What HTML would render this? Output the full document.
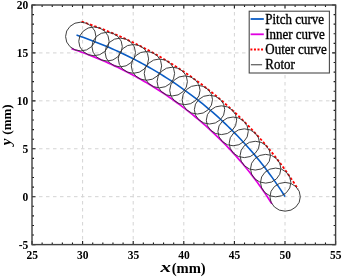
<!DOCTYPE html>
<html><head><meta charset="utf-8"><style>
html,body{margin:0;padding:0;background:#fff;}
svg{display:block;will-change:transform;}
text{font-family:"Liberation Serif",serif;}
</style></head><body>
<svg width="342" height="277" viewBox="0 0 342 277">
<rect width="342" height="277" fill="#fff"/>
<g stroke="#d4d4d4" stroke-width="1" stroke-dasharray="3.5,3.5" fill="none"><line x1="82.60" y1="5.00" x2="82.60" y2="244.60"/><line x1="133.20" y1="5.00" x2="133.20" y2="244.60"/><line x1="183.80" y1="5.00" x2="183.80" y2="244.60"/><line x1="234.40" y1="5.00" x2="234.40" y2="244.60"/><line x1="285.00" y1="5.00" x2="285.00" y2="244.60"/><line x1="32.00" y1="52.92" x2="335.60" y2="52.92"/><line x1="32.00" y1="100.84" x2="335.60" y2="100.84"/><line x1="32.00" y1="148.76" x2="335.60" y2="148.76"/><line x1="32.00" y1="196.68" x2="335.60" y2="196.68"/></g>
<polyline points="76.52,35.11 79.79,36.21 83.06,37.34 86.32,38.50 89.57,39.68 92.80,40.89 96.03,42.13 99.24,43.40 102.44,44.69 105.63,46.01 108.80,47.35 111.97,48.72 115.12,50.12 118.25,51.55 121.38,53.00 124.49,54.47 127.58,55.98 130.67,57.50 133.73,59.06 136.79,60.64 139.83,62.24 142.85,63.87 145.86,65.53 148.85,67.21 151.83,68.92 154.79,70.65 157.73,72.40 160.66,74.18 163.57,75.99 166.46,77.81 169.34,79.67 172.20,81.54 175.04,83.44 177.87,85.37 180.67,87.32 183.46,89.29 186.23,91.28 188.98,93.30 191.71,95.34 194.42,97.40 197.12,99.49 199.79,101.60 202.44,103.73 205.08,105.88 207.69,108.05 210.28,110.25 212.86,112.47 215.41,114.71 217.94,116.97 220.45,119.25 222.94,121.55 225.41,123.88 227.85,126.22 230.27,128.58 232.67,130.97 235.05,133.37 237.41,135.80 239.74,138.24 242.05,140.70 244.34,143.19 246.61,145.69 248.85,148.21 251.06,150.75 253.26,153.30 255.43,155.88 257.57,158.47 259.69,161.08 261.79,163.71 263.86,166.36 265.91,169.02 267.93,171.70 269.93,174.40 271.90,177.12 273.85,179.85 275.77,182.59 277.67,185.36 279.54,188.13 281.38,190.93 283.20,193.74 284.99,196.56" fill="none" stroke="#0a5cc4" stroke-width="1.6"/>
<polyline points="71.50,48.68 74.65,49.74 77.80,50.82 80.93,51.94 84.05,53.07 87.16,54.24 90.26,55.43 93.35,56.65 96.43,57.89 99.49,59.16 102.55,60.45 105.59,61.77 108.62,63.11 111.63,64.48 114.63,65.88 117.63,67.30 120.60,68.74 123.57,70.21 126.51,71.70 129.45,73.22 132.37,74.77 135.28,76.33 138.17,77.93 141.05,79.54 143.91,81.18 146.76,82.85 149.59,84.53 152.40,86.25 155.20,87.98 157.98,89.74 160.75,91.52 163.50,93.32 166.23,95.15 168.95,97.00 171.64,98.87 174.32,100.77 176.99,102.69 179.63,104.63 182.26,106.59 184.87,108.57 187.45,110.58 190.03,112.60 192.58,114.65 195.11,116.72 197.62,118.81 200.12,120.92 202.59,123.06 205.04,125.21 207.48,127.38 209.89,129.58 212.28,131.79 214.65,134.02 217.01,136.28 219.33,138.55 221.64,140.84 223.93,143.16 226.20,145.49 228.44,147.84 230.66,150.20 232.86,152.59 235.04,155.00 237.19,157.42 239.32,159.86 241.43,162.32 243.52,164.79 245.58,167.29 247.62,169.80 249.64,172.33 251.63,174.87 253.60,177.43 255.54,180.01 257.46,182.60 259.36,185.21 261.23,187.84 263.08,190.48 264.90,193.14 266.70,195.81 268.47,198.49 270.22,201.19 271.94,203.91" fill="none" stroke="#e000e0" stroke-width="1.7"/>
<polyline points="81.53,21.54 84.94,22.69 88.33,23.86 91.71,25.06 95.08,26.29 98.44,27.55 101.79,28.83 105.13,30.15 108.45,31.49 111.76,32.86 115.06,34.25 118.35,35.68 121.62,37.13 124.88,38.61 128.12,40.12 131.35,41.65 134.57,43.21 137.77,44.80 140.95,46.41 144.12,48.05 147.28,49.72 150.42,51.41 153.54,53.13 156.65,54.88 159.74,56.65 162.82,58.45 165.87,60.27 168.91,62.12 171.94,63.99 174.94,65.89 177.93,67.82 180.90,69.76 183.85,71.74 186.78,73.74 189.70,75.76 192.59,77.81 195.47,79.88 198.33,81.97 201.16,84.09 203.98,86.23 206.78,88.40 209.55,90.59 212.31,92.80 215.05,95.04 217.76,97.30 220.45,99.58 223.13,101.88 225.78,104.21 228.40,106.55 231.01,108.92 233.59,111.31 236.16,113.73 238.70,116.16 241.21,118.62 243.71,121.09 246.18,123.59 248.62,126.11 251.05,128.64 253.45,131.20 255.82,133.78 258.17,136.38 260.50,139.00 262.80,141.63 265.08,144.29 267.34,146.96 269.56,149.66 271.77,152.37 273.94,155.10 276.10,157.85 278.22,160.61 280.32,163.40 282.40,166.20 284.45,169.02 286.47,171.85 288.46,174.71 290.43,177.58 292.37,180.46 294.29,183.36 296.18,186.28 298.04,189.21" fill="none" stroke="#ff0000" stroke-width="1.8" stroke-dasharray="2.6,1.9"/>
<g fill="none" stroke="#363636" stroke-width="0.95"><ellipse cx="80.77" cy="36.54" rx="15.18" ry="14.38"/><ellipse cx="93.94" cy="41.33" rx="15.18" ry="14.38"/><ellipse cx="107.12" cy="46.64" rx="15.18" ry="14.38"/><ellipse cx="120.29" cy="52.49" rx="15.18" ry="14.38"/><ellipse cx="133.42" cy="58.89" rx="15.18" ry="14.38"/><ellipse cx="146.47" cy="65.87" rx="15.18" ry="14.38"/><ellipse cx="159.42" cy="73.42" rx="15.18" ry="14.38"/><ellipse cx="172.23" cy="81.57" rx="15.18" ry="14.38"/><ellipse cx="184.88" cy="90.31" rx="15.18" ry="14.38"/><ellipse cx="197.33" cy="99.66" rx="15.18" ry="14.38"/><ellipse cx="209.54" cy="109.62" rx="15.18" ry="14.38"/><ellipse cx="221.48" cy="120.20" rx="15.18" ry="14.38"/><ellipse cx="233.10" cy="131.40" rx="15.18" ry="14.38"/><ellipse cx="244.37" cy="143.22" rx="15.18" ry="14.38"/><ellipse cx="255.25" cy="155.67" rx="15.18" ry="14.38"/><ellipse cx="265.70" cy="168.75" rx="15.18" ry="14.38"/><ellipse cx="275.68" cy="182.46" rx="15.18" ry="14.38"/><ellipse cx="285.13" cy="196.79" rx="15.18" ry="14.38"/></g>
<path d="M32.00,244.60v-3.5M32.00,5.00v3.5M42.12,244.60v-2M42.12,5.00v2M52.24,244.60v-2M52.24,5.00v2M62.36,244.60v-2M62.36,5.00v2M72.48,244.60v-2M72.48,5.00v2M82.60,244.60v-3.5M82.60,5.00v3.5M92.72,244.60v-2M92.72,5.00v2M102.84,244.60v-2M102.84,5.00v2M112.96,244.60v-2M112.96,5.00v2M123.08,244.60v-2M123.08,5.00v2M133.20,244.60v-3.5M133.20,5.00v3.5M143.32,244.60v-2M143.32,5.00v2M153.44,244.60v-2M153.44,5.00v2M163.56,244.60v-2M163.56,5.00v2M173.68,244.60v-2M173.68,5.00v2M183.80,244.60v-3.5M183.80,5.00v3.5M193.92,244.60v-2M193.92,5.00v2M204.04,244.60v-2M204.04,5.00v2M214.16,244.60v-2M214.16,5.00v2M224.28,244.60v-2M224.28,5.00v2M234.40,244.60v-3.5M234.40,5.00v3.5M244.52,244.60v-2M244.52,5.00v2M254.64,244.60v-2M254.64,5.00v2M264.76,244.60v-2M264.76,5.00v2M274.88,244.60v-2M274.88,5.00v2M285.00,244.60v-3.5M285.00,5.00v3.5M295.12,244.60v-2M295.12,5.00v2M305.24,244.60v-2M305.24,5.00v2M315.36,244.60v-2M315.36,5.00v2M325.48,244.60v-2M325.48,5.00v2M335.60,244.60v-3.5M335.60,5.00v3.5M32.00,244.60h3.5M335.60,244.60h-3.5M32.00,235.02h2M335.60,235.02h-2M32.00,225.43h2M335.60,225.43h-2M32.00,215.85h2M335.60,215.85h-2M32.00,206.26h2M335.60,206.26h-2M32.00,196.68h3.5M335.60,196.68h-3.5M32.00,187.10h2M335.60,187.10h-2M32.00,177.51h2M335.60,177.51h-2M32.00,167.93h2M335.60,167.93h-2M32.00,158.34h2M335.60,158.34h-2M32.00,148.76h3.5M335.60,148.76h-3.5M32.00,139.18h2M335.60,139.18h-2M32.00,129.59h2M335.60,129.59h-2M32.00,120.01h2M335.60,120.01h-2M32.00,110.42h2M335.60,110.42h-2M32.00,100.84h3.5M335.60,100.84h-3.5M32.00,91.26h2M335.60,91.26h-2M32.00,81.67h2M335.60,81.67h-2M32.00,72.09h2M335.60,72.09h-2M32.00,62.50h2M335.60,62.50h-2M32.00,52.92h3.5M335.60,52.92h-3.5M32.00,43.34h2M335.60,43.34h-2M32.00,33.75h2M335.60,33.75h-2M32.00,24.17h2M335.60,24.17h-2M32.00,14.58h2M335.60,14.58h-2M32.00,5.00h3.5M335.60,5.00h-3.5" stroke="#1a1a1a" stroke-width="1.1" fill="none"/>
<rect x="32.00" y="5.00" width="303.60" height="239.60" fill="none" stroke="#404040" stroke-width="1.4"/>
<g font-size="12.8" font-weight="bold" fill="#000"><text transform="translate(32.20,259.3) scale(0.9,1)" text-anchor="middle">25</text><text transform="translate(82.80,259.3) scale(0.9,1)" text-anchor="middle">30</text><text transform="translate(133.40,259.3) scale(0.9,1)" text-anchor="middle">35</text><text transform="translate(184.00,259.3) scale(0.9,1)" text-anchor="middle">40</text><text transform="translate(234.60,259.3) scale(0.9,1)" text-anchor="middle">45</text><text transform="translate(285.20,259.3) scale(0.9,1)" text-anchor="middle">50</text><text transform="translate(335.80,259.3) scale(0.9,1)" text-anchor="middle">55</text><text transform="translate(28.3,9.10) scale(0.9,1)" text-anchor="end">20</text><text transform="translate(28.3,57.02) scale(0.9,1)" text-anchor="end">15</text><text transform="translate(28.3,104.94) scale(0.9,1)" text-anchor="end">10</text><text transform="translate(28.3,152.86) scale(0.9,1)" text-anchor="end">5</text><text transform="translate(28.3,200.78) scale(0.9,1)" text-anchor="end">0</text><text transform="translate(28.3,248.70) scale(0.9,1)" text-anchor="end">-5</text></g>
<text transform="translate(160.5,272) scale(1.4,1)" font-size="15" font-weight="bold" font-style="italic">x</text>
<text transform="translate(171.7,273) scale(1.0,1)" font-size="14.6" font-weight="bold">(mm)</text>
<g transform="translate(11.2,145.3) rotate(-90)"><text x="0" y="0" font-size="13" font-weight="bold"><tspan font-style="italic" font-size="15">y</tspan><tspan dx="4">(mm)</tspan></text></g>
<rect x="249.2" y="11.2" width="80.2" height="61.8" fill="#fff" stroke="#4a4a4a" stroke-width="1.1"/>
<line x1="250.6" y1="19" x2="263.8" y2="19" stroke="#0a5cc4" stroke-width="1.8"/>
<line x1="250.6" y1="34.3" x2="263.8" y2="34.3" stroke="#e000e0" stroke-width="1.8"/>
<line x1="250.4" y1="49.5" x2="263.8" y2="49.5" stroke="#ff0000" stroke-width="2" stroke-dasharray="2,1.55"/>
<line x1="250.9" y1="64.7" x2="262.1" y2="64.7" stroke="#666" stroke-width="1.3"/>
<g font-size="13.8" fill="#000" stroke="#000" stroke-width="0.35" transform="translate(265.3,0) scale(0.94,1)">
<text x="0" y="23.8">Pitch curve</text>
<text x="0" y="39.1">Inner curve</text>
<text x="0" y="54.4">Outer curve</text>
<text x="0" y="69.4">Rotor</text>
</g>
</svg>
</body></html>
